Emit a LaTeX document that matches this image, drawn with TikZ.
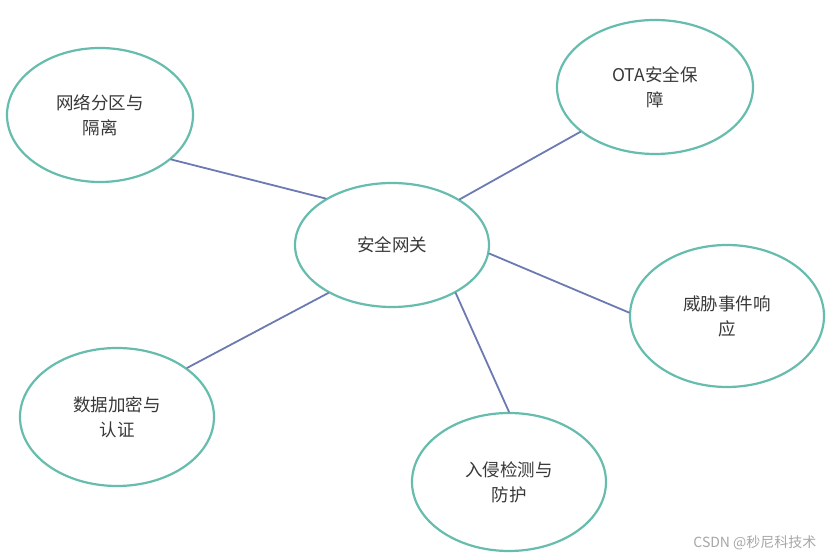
\documentclass[tikz,border=0pt]{standalone}
\usepackage{fontspec}
\newfontfamily\cjk{Noto Sans CJK SC}
\usetikzlibrary{shapes.geometric}
\definecolor{ringcol}{rgb}{0.40,0.74,0.68}
\definecolor{linkcol}{rgb}{0.42,0.48,0.70}
\definecolor{txtcol}{rgb}{0.22,0.22,0.22}

\begin{document}
\begin{tikzpicture}[x=1pt, y=1pt, line cap=round, line join=round,
    topic/.style={ellipse, draw=ringcol, line width=2.2pt, fill=white, inner sep=0pt,
      align=center, text=txtcol, font=\cjk\fontsize{17.5}{25}\selectfont},
    link/.style={draw=linkcol, line width=1.8pt}]
  \useasboundingbox (0,0) rectangle (831,559);
  % centre and the five topics round it
  \node[topic, minimum width=194, minimum height=124] (gw) at (392,314) {安全网关};
  \node[topic, minimum width=186, minimum height=134] (isol) at (100,444) {网络分区与\\隔离};
  \node[topic, minimum width=196, minimum height=134] (ota) at (655,472) {OTA安全保\\障};
  \node[topic, minimum width=194, minimum height=142] (resp) at (727,243) {威胁事件响\\应};
  \node[topic, minimum width=194, minimum height=138] (enc) at (117,142) {数据加密与\\认证};
  \node[topic, minimum width=194, minimum height=138] (ids) at (509,77) {入侵检测与\\防护};
  % links
  \draw[link] (gw.145) -- (isol.-32);
  \draw[link] (gw.34) -- (ota.211);
  \draw[link] (gw.-5) -- (resp.178);
  \draw[link] (gw.217) -- (enc.35);
  \draw[link] (gw.-37) -- (ids.90);
  % watermark
  \node[text=black!35, font=\cjk\fontsize{14}{16}\selectfont, anchor=east] (mark) at (820,16) {CSDN @秒尼科技术};
\end{tikzpicture}
\end{document}
